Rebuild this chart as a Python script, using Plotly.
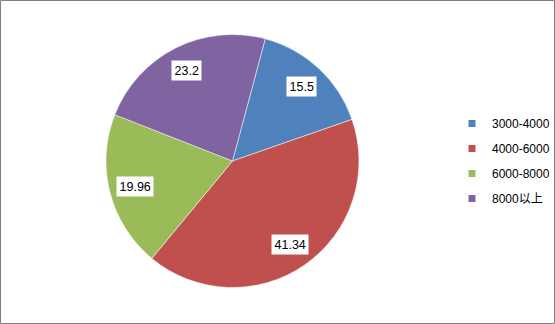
import math
import plotly.graph_objects as go

categories = ["3000-4000", "4000-6000", "6000-8000", "8000以上"]
values = [15.5, 41.34, 19.96, 23.2]
colors = ["#4F81BD", "#C0504D", "#9BBB59", "#8064A2"]

W, H = 555, 324
CX, CY, R = 232.5, 161.0, 126.5
ROT = 15
FONT = "Liberation Sans, Arial, Noto Sans CJK SC, sans-serif"

fig = go.Figure()
fig.add_trace(go.Pie(
    labels=categories, values=values, sort=False, direction="clockwise",
    rotation=ROT, marker=dict(colors=colors, line=dict(color="white", width=0.5)),
    textinfo="none", hoverinfo="label+value", showlegend=False,
    domain=dict(x=[(CX - R) / W, (CX + R) / W], y=[1 - (CY + R) / H, 1 - (CY - R) / H]),
))

# legend entries
for i, (c, col) in enumerate(zip(categories, colors)):
    fig.add_trace(go.Scatter(x=[None], y=[None], mode="markers", name=c,
                             marker=dict(symbol="square", size=7, color=col),
                             legendgroup=f"g{i}", showlegend=True))

# data labels with white boxes, placed at slice mid-angles
total = sum(values)
cum = 0.0
anns = []
for v in values:
    mid = ROT + (cum + v / 2) / total * 360.0
    cum += v
    a = math.radians(mid)
    px = CX + 0.8 * R * math.sin(a)
    py = CY - 0.8 * R * math.cos(a)
    anns.append(dict(x=px / W, y=1 - py / H, xref="paper", yref="paper",
                     xanchor="center", yanchor="middle",
                     text=f"{v:g}", showarrow=False, bgcolor="white",
                     borderpad=2.5, font=dict(family=FONT, size=12.5, color="black")))

fig.update_layout(
    width=W, height=H, margin=dict(l=0, r=0, t=0, b=0),
    paper_bgcolor="white", plot_bgcolor="white",
    xaxis=dict(visible=False), yaxis=dict(visible=False),
    annotations=anns,
    legend=dict(x=452 / W, y=1 - 161 / H, xanchor="left", yanchor="middle",
                font=dict(family=FONT, size=12, color="black"),
                tracegroupgap=6, itemwidth=30, bgcolor="rgba(0,0,0,0)"),
    shapes=[dict(type="rect", xref="paper", yref="paper",
                 x0=0.5 / W, x1=554.5 / W, y0=1 - 323.5 / H, y1=1 - 0.5 / H,
                 line=dict(color="#808080", width=1))],
)
fig.write_html("out.html")
